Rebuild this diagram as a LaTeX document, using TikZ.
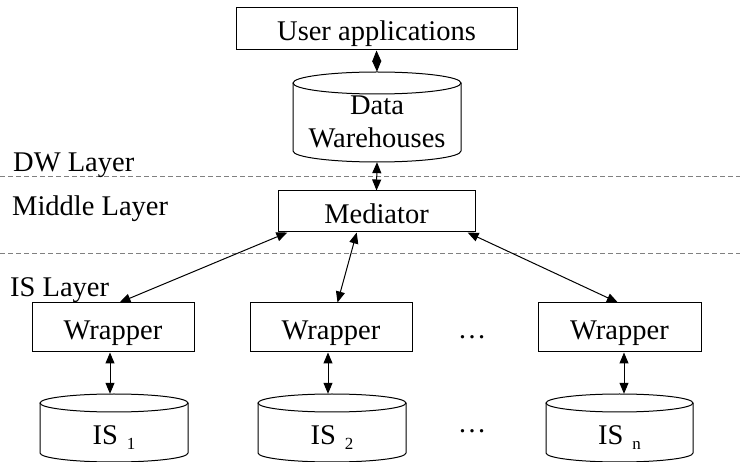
\documentclass[tikz,border=0pt]{standalone}
\usepackage{fontspec}
\setmainfont{Liberation Serif}
\usetikzlibrary{arrows.meta,calc}
\tikzset{
  box/.style={draw, line width=1pt, inner sep=0pt, text height=24pt, text depth=0pt},
  arr/.style={line width=1pt, {Triangle[length=11pt,width=9pt]}-{Triangle[length=11pt,width=9pt]}},
  layerline/.style={draw=black!50, line width=1pt, dash pattern=on 5pt off 3pt},
  lbl/.style={anchor=base west, inner sep=0pt},
  txt/.style={anchor=base, inner sep=0pt},
  cylbox/.style={inner sep=0pt, draw=none},
  cyl/.style={line width=1pt},
}
\newcommand\subs[1]{\raisebox{-5pt}{\fontsize{17}{17}\selectfont #1}}
\begin{document}
\begin{tikzpicture}[x=1pt,y=1pt,font=\fontsize{28.5}{33}\selectfont]
\useasboundingbox (0,0) rectangle (740,-462);
\clip (0,0) rectangle (740,-462);
\fill[white] (0,0) rectangle (740,-462);

% layer lines
\draw[layerline] (0,-176.5) -- (740,-176.5);
\draw[layerline] (0,-254) -- (740,-254);

% layer labels
\node[lbl] (dwl) at (13,-172) {DW Layer};
\node[lbl] (midl) at (12,-216) {Middle Layer};
\node[lbl] (isl) at (10,-297) {IS Layer};

% boxes
\node[box, minimum width=281pt, minimum height=42pt] (ua) at (376.5,-29) {User applications};
\node[box, minimum width=197pt, minimum height=41pt] (med) at (376.5,-211.5) {Mediator};
\node[box, minimum width=162pt, minimum height=49pt] (w1) at (113,-327.5) {Wrapper};
\node[box, minimum width=162pt, minimum height=49pt] (w2) at (331,-327.5) {Wrapper};
\node[box, minimum width=163pt, minimum height=49pt] (w3) at (619.5,-327.5) {Wrapper};

% data warehouse cylinder
\node[cylbox, minimum width=168pt, minimum height=90pt] (dw) at (377,-117) {};
\draw[cyl] (293,-83) -- (293,-151) arc[start angle=180, end angle=360, x radius=84pt, y radius=11pt] -- (461,-83);
\draw[cyl] (377,-83) ellipse[x radius=84pt, y radius=11pt];
\node[txt, align=center] (dwt) at (377,-148) {Data\\Warehouses};

% IS cylinders
\node[cylbox, minimum width=148pt, minimum height=68pt] (is1) at (114,-428) {};
\draw[cyl] (40,-403) -- (40,-453) arc[start angle=180, end angle=360, x radius=74pt, y radius=9pt] -- (188,-403);
\draw[cyl] (114,-403) ellipse[x radius=74pt, y radius=9pt];
\node[txt] (is1t) at (114,-445) {IS\hspace{9pt}\subs{1}};

\node[cylbox, minimum width=148pt, minimum height=68pt] (is2) at (332,-428) {};
\draw[cyl] (258,-403) -- (258,-453) arc[start angle=180, end angle=360, x radius=74pt, y radius=9pt] -- (406,-403);
\draw[cyl] (332,-403) ellipse[x radius=74pt, y radius=9pt];
\node[txt] (is2t) at (332,-445) {IS\hspace{9pt}\subs{2}};

\node[cylbox, minimum width=147pt, minimum height=68pt] (isn) at (619.5,-428) {};
\draw[cyl] (546,-403) -- (546,-453) arc[start angle=180, end angle=360, x radius=73.5pt, y radius=9pt] -- (693,-403);
\draw[cyl] (619.5,-403) ellipse[x radius=73.5pt, y radius=9pt];
\node[txt] (isnt) at (619.5,-445) {IS\hspace{9pt}\subs{n}};

% dots
\node[txt] (dots1) at (472,-339) {…};
\node[txt] (dots2) at (472,-433) {…};

% connectors
\draw[arr] (ua.south) -- (dw.north);
\draw[arr] (dw.south) -- (med.north);
\draw[arr] ($(med.south west)!0.05!(med.south east)$) -- ($(w1.north west)!0.54!(w1.north east)$);
\draw[arr] ($(med.south west)!0.40!(med.south east)$) -- ($(w2.north west)!0.54!(w2.north east)$);
\draw[arr] ($(med.south west)!0.96!(med.south east)$) -- ($(w3.north west)!0.49!(w3.north east)$);
\draw[arr] ([xshift=-3pt]w1.south) -- ([xshift=-4pt]is1.north);
\draw[arr] ([xshift=-3pt]w2.south) -- ([xshift=-4pt]is2.north);
\draw[arr] ([xshift=4.5pt]w3.south) -- ([xshift=4.5pt]isn.north);
\end{tikzpicture}
\end{document}
